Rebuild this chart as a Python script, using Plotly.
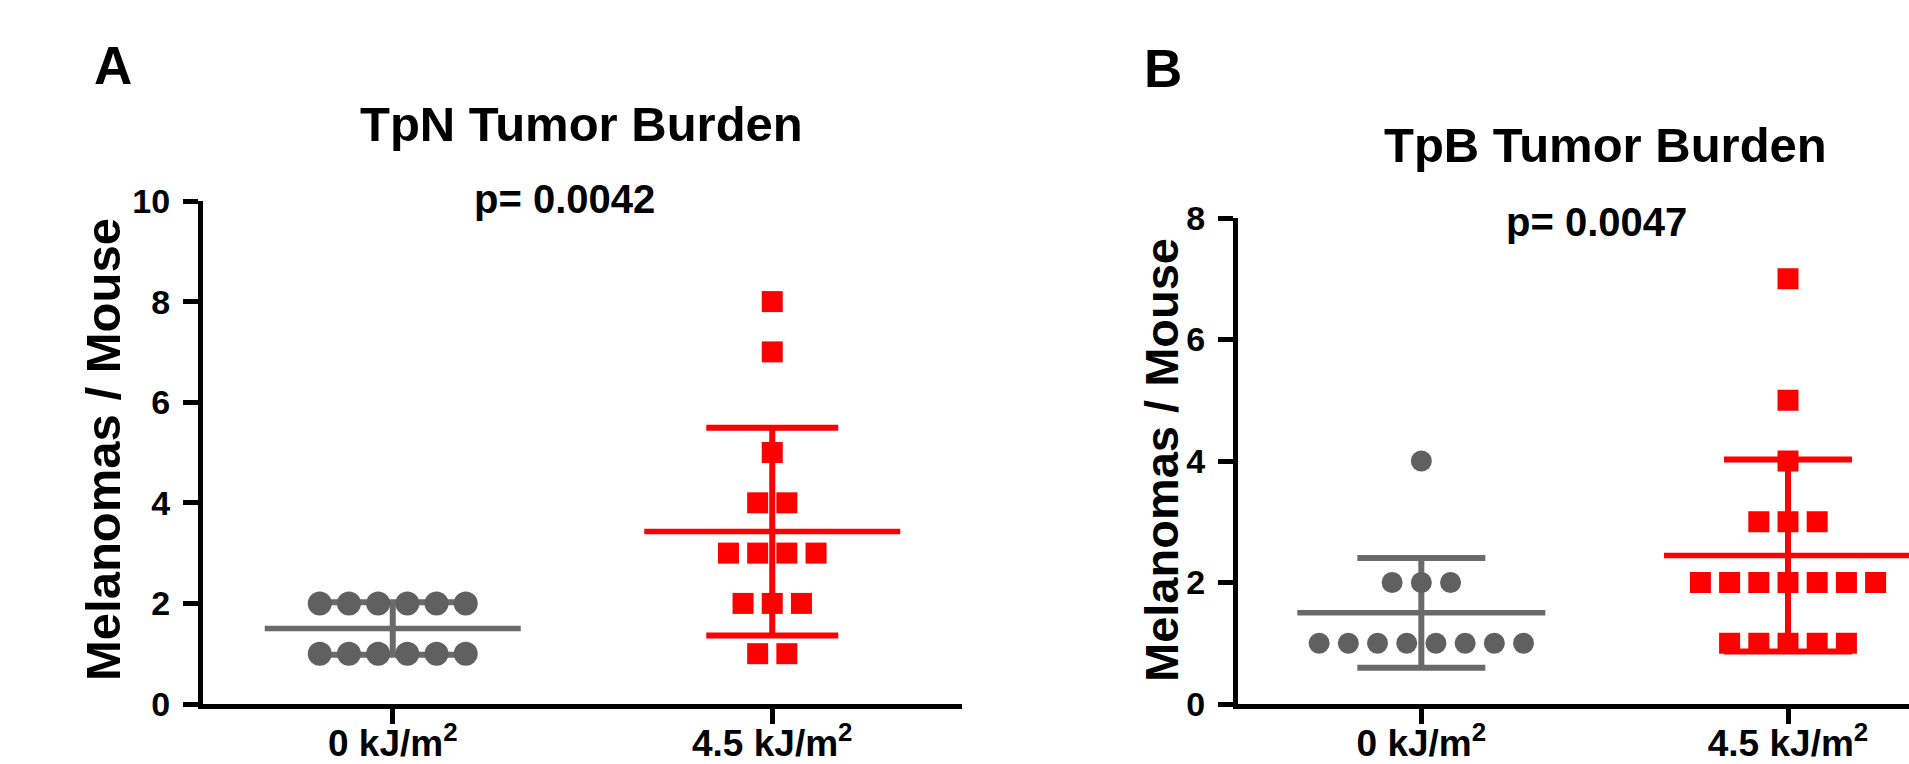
import numpy as np
import plotly.graph_objects as go

W, H = 1909, 764

# ---------------- data ----------------
categories = ["0 kJ/m<sup>2</sup>", "4.5 kJ/m<sup>2</sup>"]
tpn_0kj = [2, 2, 2, 2, 2, 2, 1, 1, 1, 1, 1, 1]
tpn_45kj = [8, 7, 5, 4, 4, 3, 3, 3, 3, 2, 2, 2, 1, 1]
tpb_0kj = [4, 2, 2, 2, 1, 1, 1, 1, 1, 1, 1, 1]
tpb_45kj = [7, 5, 4, 3, 3, 3, 2, 2, 2, 2, 2, 2, 2, 1, 1, 1, 1, 1]
yticks_a = [0, 2, 4, 6, 8, 10]
yticks_b = [0, 2, 4, 6, 8]
panel_titles = ["TpN Tumor Burden", "TpB Tumor Burden"]
p_values = ["p= 0.0042", "p= 0.0047"]
panel_letters = ["A", "B"]
y_title = "Melanomas / Mouse"

# ---------------- layout geometry (pixels) ----------------
GRAY = "#606060"
GRAY_LINE = "#6a6a6a"
RED = "#ff0000"
FONT = "Liberation Sans, Arial, sans-serif"

def px_x(p):
    return p / W

def px_y(p):
    return 1 - p / H

panels = [
    dict(xaxis="x", yaxis="y", xdom=(203, 962), ydom=(704, 201), xrange=(-0.5, 1.5),
         yrange=(0, 10), yticks=yticks_a, data=(tpn_0kj, tpn_45kj),
         circ=24, sq=21, mean_hw=128, cap_hw=66),
    dict(xaxis="x2", yaxis="y2", xdom=(1238, 1909), ydom=(704, 218), xrange=(-0.5, 1.33),
         yrange=(0, 8), yticks=yticks_b, data=(tpb_0kj, tpb_45kj),
         circ=21, sq=21, mean_hw=124, cap_hw=64),
]

SPACING_PX = 29.2

fig = go.Figure()

def spread(values, center, px_per_unit):
    xs, ys = [], []
    vals = np.array(values)
    for v in sorted(set(values), reverse=True):
        n = int((vals == v).sum())
        for i in range(n):
            xs.append(center + (i - (n - 1) / 2) * SPACING_PX / px_per_unit)
            ys.append(v)
    return xs, ys

for p in panels:
    ppu = (p["xdom"][1] - p["xdom"][0]) / (p["xrange"][1] - p["xrange"][0])
    for ci, (vals, color, sym, size, lcol) in enumerate([
        (p["data"][0], GRAY, "circle", p["circ"], GRAY_LINE),
        (p["data"][1], RED, "square", p["sq"], RED),
    ]):
        m = float(np.mean(vals))
        sd = float(np.std(vals, ddof=1))
        hw = p["mean_hw"] / ppu
        # mean line
        fig.add_trace(go.Scatter(x=[ci - hw, ci + hw], y=[m, m], mode="lines",
                                 line=dict(color=lcol, width=5.5),
                                 xaxis=p["xaxis"], yaxis=p["yaxis"], showlegend=False,
                                 hoverinfo="skip"))
        # SD error bar
        fig.add_trace(go.Scatter(x=[ci], y=[m], mode="markers",
                                 marker=dict(size=1, color="rgba(0,0,0,0)"),
                                 error_y=dict(type="data", array=[sd], symmetric=True,
                                              width=p["cap_hw"], thickness=6, color=lcol),
                                 xaxis=p["xaxis"], yaxis=p["yaxis"], showlegend=False,
                                 hoverinfo="skip"))
        xs, ys = spread(vals, ci, ppu)
        fig.add_trace(go.Scatter(x=xs, y=ys, mode="markers",
                                 marker=dict(symbol=sym, size=size, color=color,
                                             line=dict(width=0)),
                                 xaxis=p["xaxis"], yaxis=p["yaxis"], showlegend=False))

axis_common = dict(showline=True, linecolor="black", linewidth=5, ticks="outside",
                   ticklen=15, tickwidth=5, tickcolor="black", showgrid=False,
                   zeroline=False, fixedrange=True, automargin=False)

layout = dict(width=W, height=H, margin=dict(l=0, r=0, t=0, b=0, autoexpand=False),
              paper_bgcolor="white", plot_bgcolor="white", showlegend=False,
              font=dict(family=FONT, color="black"))

for i, p in enumerate(panels):
    sfx = "" if i == 0 else "2"
    layout["xaxis" + sfx] = dict(
        domain=[px_x(p["xdom"][0]), px_x(p["xdom"][1])], range=list(p["xrange"]),
        anchor="y" + sfx, tickmode="array", tickvals=[0, 1], ticktext=categories,
        ticklabelstandoff=-12,
        tickfont=dict(family=FONT, size=37, color="black", weight="bold"), **axis_common)
    layout["yaxis" + sfx] = dict(
        domain=[px_y(p["ydom"][0]), px_y(p["ydom"][1])], range=list(p["yrange"]),
        anchor="x" + sfx, tickmode="array", tickvals=p["yticks"],
        ticktext=[str(t) for t in p["yticks"]], ticklabelstandoff=6,
        tickfont=dict(family=FONT, size=34, color="black", weight="bold"), **axis_common)

fig.update_layout(**layout)

annos = [
    # panel letters
    dict(text=panel_letters[0], x=px_x(113), y=px_y(66), size=53),
    dict(text=panel_letters[1], x=px_x(1163), y=px_y(68), size=53),
    # titles
    dict(text=panel_titles[0], x=px_x(581), y=px_y(124), size=49),
    dict(text=panel_titles[1], x=px_x(1605), y=px_y(145), size=49),
    # p-values
    dict(text=p_values[0], x=px_x(564), y=px_y(199), size=40),
    dict(text=p_values[1], x=px_x(1596), y=px_y(222), size=40),
]
for a in annos:
    fig.add_annotation(text="<b>%s</b>" % a["text"], xref="paper", yref="paper",
                       x=a["x"], y=a["y"], xanchor="center", yanchor="middle",
                       showarrow=False, font=dict(family=FONT, size=a["size"], color="black"))

# y-axis titles
fig.add_annotation(text="<b>%s</b>" % y_title, xref="paper", yref="paper",
                   x=px_x(103), y=px_y(450), xanchor="center", yanchor="middle",
                   textangle=-90, showarrow=False, font=dict(family=FONT, size=49, color="black"))
fig.add_annotation(text="<b>%s</b>" % y_title, xref="paper", yref="paper",
                   x=px_x(1161), y=px_y(460), xanchor="center", yanchor="middle",
                   textangle=-90, showarrow=False, font=dict(family=FONT, size=47, color="black"))

fig.write_html("out.html", config={"displayModeBar": False},
               post_script="document.body.style.margin='0';document.body.style.overflow='hidden';")
